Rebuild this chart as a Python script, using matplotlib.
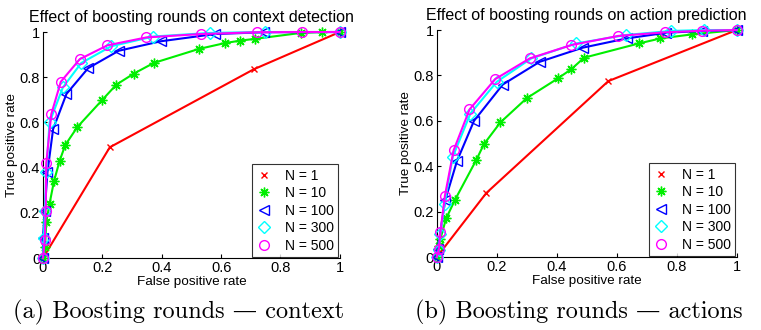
import numpy as np
import matplotlib
matplotlib.use("Agg")
import matplotlib.pyplot as plt

plt.rcParams["font.family"] = ["Liberation Sans", "DejaVu Sans"]

labels = ["N = 1", "N = 10", "N = 100", "N = 300", "N = 500"]
colors = ["#ff0000", "#00ee00", "#0000ff", "#00ffff", "#ff00ff"]
markers = ["x", (8, 2, 0), "<", "D", "o"]
msizes = [5, 7, 7, 6, 7]

# context detection
ctx_fpr = [
    [0, 0.225, 0.71, 1],
    [0, 0.007, 0.011, 0.022, 0.037, 0.056, 0.075, 0.116, 0.20, 0.247, 0.306, 0.373,
     0.525, 0.613, 0.665, 0.716, 0.869, 0.94, 1],
    [0, 0.0, 0.006, 0.015, 0.034, 0.079, 0.152, 0.255, 0.397, 0.579, 0.745, 1],
    [0, 0.003, 0.006, 0.011, 0.022, 0.067, 0.129, 0.23, 0.371, 0.562, 0.747, 1],
    [0, 0.006, 0.009, 0.011, 0.028, 0.06, 0.124, 0.217, 0.348, 0.531, 0.722, 0.871, 1],
]
ctx_tpr = [
    [0, 0.49, 0.835, 1],
    [0, 0.05, 0.158, 0.24, 0.34, 0.43, 0.50, 0.58, 0.70, 0.767, 0.816, 0.863,
     0.925, 0.951, 0.962, 0.97, 0.996, 1.0, 1],
    [0, 0.09, 0.21, 0.38, 0.57, 0.726, 0.84, 0.917, 0.959, 0.991, 0.999, 1],
    [0, 0.09, 0.21, 0.38, 0.60, 0.755, 0.863, 0.937, 0.98, 0.996, 1.0, 1],
    [0, 0.08, 0.21, 0.42, 0.637, 0.78, 0.88, 0.941, 0.976, 0.991, 0.999, 1.0, 1],
]

# action prediction
act_fpr = [
    [0, 0.165, 0.572, 1],
    [0, 0.007, 0.012, 0.031, 0.061, 0.131, 0.157, 0.212, 0.30, 0.404, 0.449, 0.491,
     0.674, 0.746, 0.852, 1],
    [0, 0.003, 0.028, 0.067, 0.124, 0.22, 0.343, 0.486, 0.633, 0.766, 0.883, 1],
    [0, 0.006, 0.012, 0.026, 0.053, 0.112, 0.20, 0.315, 0.465, 0.63, 0.781, 0.891, 1],
    [0, 0.007, 0.012, 0.027, 0.056, 0.109, 0.195, 0.31, 0.449, 0.605, 0.761, 0.885, 1],
]
act_tpr = [
    [0, 0.282, 0.775, 1],
    [0, 0.05, 0.08, 0.17, 0.253, 0.426, 0.497, 0.593, 0.70, 0.787, 0.828, 0.878,
     0.941, 0.963, 0.981, 1],
    [0, 0.037, 0.25, 0.422, 0.60, 0.76, 0.86, 0.922, 0.963, 0.988, 0.996, 1],
    [0, 0.03, 0.103, 0.235, 0.441, 0.632, 0.772, 0.875, 0.941, 0.978, 0.996, 1.0, 1],
    [0, 0.037, 0.11, 0.27, 0.47, 0.65, 0.784, 0.875, 0.934, 0.974, 0.99, 0.997, 1],
]

titles = ["Effect of boosting rounds on context detection",
          "Effect of boosting rounds on action prediction"]
captions = ["(a) Boosting rounds \u2014 context", "(b) Boosting rounds \u2014 actions"]
ticks = [0, 0.2, 0.4, 0.6, 0.8, 1]
tick_labels = ["0", "0.2", "0.4", "0.6", "0.8", "1"]

fig = plt.figure(figsize=(7.61, 3.30), dpi=100)
ax_boxes = [[0.0565, 0.218, 0.390, 0.685], [0.574, 0.221, 0.394, 0.688]]


def draw_panel(ax, fprs, tprs, title):
    for i in range(len(labels)):
        ax.plot(fprs[i], tprs[i], color=colors[i], lw=1.5, marker=markers[i],
                ms=msizes[i], mfc="none", mec=colors[i], mew=1.0,
                label=labels[i], clip_on=False, zorder=3 + i)
    ax.set_xlim(0, 1)
    ax.set_ylim(0, 1)
    ax.set_xticks(ticks)
    ax.set_xticklabels(tick_labels)
    ax.set_yticks(ticks)
    ax.set_yticklabels(tick_labels)
    ax.spines["top"].set_visible(False)
    ax.spines["right"].set_visible(False)
    ax.tick_params(direction="in", length=3, labelsize=10.5, pad=2)
    ax.set_xlabel("False positive rate", fontsize=9.7, labelpad=1)
    ax.set_ylabel("True positive rate", fontsize=9.7, labelpad=1)
    ax.set_title(title, fontsize=11.5, pad=7)
    leg = ax.legend(loc="lower right", fontsize=10, frameon=True, fancybox=False,
                    handlelength=1.2, borderpad=0.3, labelspacing=0.25,
                    handletextpad=0.9, borderaxespad=0.1)
    leg.get_frame().set_edgecolor("black")
    leg.get_frame().set_linewidth(0.8)
    for line in leg.get_lines():
        line.set_linestyle("none")


for k, (fprs, tprs) in enumerate([(ctx_fpr, ctx_tpr), (act_fpr, act_tpr)]):
    ax = fig.add_axes(ax_boxes[k])
    draw_panel(ax, fprs, tprs, titles[k])

fig.text(0.2346, 0.052, captions[0], ha="center", va="center", fontsize=17.5,
         family=["cmr10", "DejaVu Serif"])
fig.text(0.761, 0.052, captions[1], ha="center", va="center", fontsize=17.5,
         family=["cmr10", "DejaVu Serif"])

fig.savefig("out.png", dpi=100)
